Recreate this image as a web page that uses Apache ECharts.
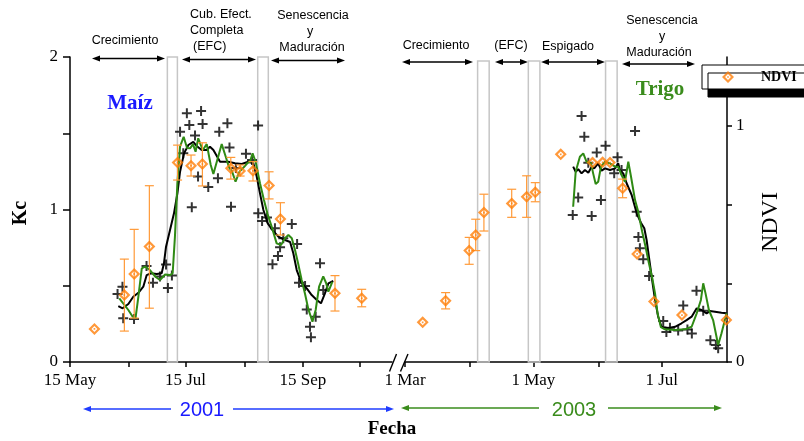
<!DOCTYPE html>
<html>
<head>
<meta charset="utf-8">
<script src="https://cdn.jsdelivr.net/npm/echarts@6/dist/echarts.min.js"></script>
<style>html,body{margin:0;padding:0;background:#fff;}#c{width:804px;height:441px;}</style>
</head>
<body>
<div id="c"></div>
<script>
// ---------- DATA (x = day of year) ----------
// 2001 (maize)
const tick2001 = [135, 166, 196, 227, 258, 288];
const labelDoy2001 = [135, 196, 258];
const labelText2001 = ['15 May', '15 Jul', '15 Sep'];
// 2003 (wheat)
const tick2003 = [60, 91, 121, 152, 182];
const labelDoy2003 = [60, 121, 182];
const labelText2003 = ['1 Mar', '1 May', '1 Jul'];

// measured Kc (crosses)
const crossDoy2001 = [160.1,162.7,163.1,168.8,175.4,178.8,182.5,185.7,186.7,188.8,193.1,194.8,196.7,198,199.3,201,202.6,204.2,205,208,213.1,213.8,218.1,219.2,220,222.6,227.9,231.1,234.3,234.4,236.4,239,241.9,243.2,244.8,245.9,247.6,252.1,254.9,255.9,259.1,260,261.7,262.2,264.7,267,268.7];
const crossKc2001  = [0.446,0.494,0.287,0.282,0.630,0.520,0.561,0.639,0.485,0.567,1.510,1.369,1.631,1.554,1.014,1.485,1.216,1.646,1.561,1.148,1.205,1.510,1.565,1.407,1.018,1.272,1.366,1.325,1.551,0.975,0.925,0.948,0.641,0.877,0.695,0.752,0.811,0.905,0.774,0.520,0.498,0.344,0.231,0.162,0.297,0.647,0.472];
const crossDoy2003 = [139.7,142.3,143.9,145.2,147.1,148.7,151.1,153.1,155.3,159.4,161,162.9,169.3,170.1,170.9,171.6,173.2,176,182.7,184.2,185.9,189.8,192.2,194.2,196.3,198.5,201.7,205.1,207.7,208.8];
const crossKc2003  = [0.964,1.079,1.613,1.477,1.307,0.957,1.374,1.062,1.418,1.237,1.342,1.259,1.515,0.986,0.820,0.746,0.673,0.564,0.269,0.197,0.225,0.207,0.370,0.213,0.187,0.468,0.336,0.142,0.111,0.090];

// black Kc curve
const blackDoy2001 = [160.5,162.8,165.8,168.4,171.1,173.7,175.5,177.8,180.8,183.4,184.6,185.7,187.4,189.9,191.7,193.1,195.2,197.5,200.1,201.9,204.5,207.2,208.9,210.7,212.5,214.2,218.6,222.1,225.7,229.1,231.8,233.6,235.3,237.1,239.4,241.8,245,248.5,251.2,252.9,254.7,257.3,260,262.6,265.3,267.5,269.6,271.4,274];
const blackKc2001  = [0.367,0.352,0.380,0.428,0.454,0.494,0.570,0.582,0.577,0.582,0.647,0.756,0.844,0.975,1.106,1.248,1.368,1.423,1.443,1.416,1.390,1.390,1.412,1.390,1.351,1.313,1.313,1.303,1.298,1.313,1.303,1.215,1.106,0.997,0.909,0.866,0.822,0.800,0.787,0.713,0.603,0.516,0.483,0.439,0.407,0.385,0.450,0.516,0.531];
const blackDoy2003 = [139.9,141.1,142.3,143.9,145.5,147.1,148.7,149.9,151.8,153.4,155,157.4,159.8,161.3,162.1,163.7,165.3,167.7,170.1,172.1,173.7,174.8,175.9,177.2,178.8,180.3,181.9,185.1,188.3,191.4,193.8,196.2,198.6,200.9,203.3,204.9,207.3,210.4,212.8];
const blackKc2003  = [1.281,1.248,1.264,1.237,1.259,1.241,1.281,1.270,1.303,1.254,1.270,1.259,1.270,1.303,1.259,1.237,1.172,1.095,0.975,0.913,0.877,0.800,0.690,0.559,0.407,0.297,0.231,0.221,0.231,0.254,0.275,0.297,0.352,0.341,0.319,0.334,0.330,0.323,0.319];

// green Kc curve
const greenDoy2001 = [161,163.1,165.8,168.1,169.6,171.1,172.9,174.6,177.2,180.1,182.5,185.2,187.8,189.2,190.4,191.7,193.1,195,196.8,198.4,199.9,201.3,202.7,205.1,207.2,209.3,210.7,212.5,215.1,217.1,219,220.5,222.4,224.5,226.6,228.7,230,231.4,233,235.3,237.4,239.3,241.5,244.1,246.4,248.5,250.3,252.1,253.8,255.5,257.3,259.1,260.8,263,264.7,266.5,268.7,270.2,271.4,273.5];
const greenKc2001  = [0.418,0.385,0.341,0.297,0.287,0.428,0.614,0.625,0.603,0.559,0.538,0.574,0.570,0.582,0.822,1.172,1.412,1.477,1.403,1.401,1.429,1.379,1.467,1.390,1.429,1.292,1.233,1.313,1.429,1.351,1.275,1.252,1.182,1.248,1.275,1.305,1.313,1.368,1.313,1.172,1.062,0.970,0.887,0.778,0.767,0.811,0.833,0.811,0.734,0.643,0.538,0.446,0.348,0.264,0.341,0.494,0.562,0.518,0.461,0.525];
const greenDoy2003 = [139.9,141.1,143.1,144.7,146.3,148.4,149.4,150.6,151.8,153.1,155,157.4,159.8,161.3,162.9,164.5,166.1,167.4,169.3,170.8,172.7,174.3,175.9,177.5,178.8,180,181.6,183.5,188.3,193,196.2,198.6,200.6,201.7,202.8,204.4,206.4,208.8,210.4,212.8];
const greenKc2003  = [1.018,1.248,1.346,1.368,1.313,1.303,1.237,1.167,1.182,1.281,1.313,1.303,1.281,1.281,1.226,1.182,1.313,1.215,1.062,0.986,0.854,0.756,0.647,0.549,0.450,0.319,0.228,0.214,0.210,0.214,0.231,0.319,0.407,0.516,0.450,0.341,0.275,0.111,0.188,0.319];

// NDVI (diamonds) with error bars (lo/hi, null = no bar)
const ndviDoy2001 = [147.9,163.7,168.9,176.9,191.8,198.9,204.9,219.9,224.8,231.6,240.1,246.1,274.9,289];
const ndvi2001    = [0.140,0.284,0.373,0.489,0.845,0.832,0.839,0.821,0.809,0.810,0.748,0.606,0.291,0.270];
const ndviLo2001  = [null,0.131,0.186,0.228,0.771,0.788,0.746,0.775,0.788,0.767,0.691,0.538,0.216,0.234];
const ndviHi2001  = [null,0.436,0.562,0.747,0.919,0.877,0.929,0.867,0.835,0.849,0.806,0.675,0.366,0.308];
const ndviDoy2003 = [68.4,79.3,90.5,93.6,97.5,110.7,117.8,121.9,134,149.1,153.9,157.4,163.4,170.3,178.3,191.6,212.7];
const ndvi2003    = [0.168,0.260,0.472,0.538,0.633,0.672,0.700,0.719,0.880,0.845,0.846,0.845,0.736,0.458,0.256,0.199,0.178];
const ndviLo2003  = [null,0.225,0.414,0.472,0.555,0.613,0.613,0.679,null,null,null,null,0.696,null,null,null,null];
const ndviHi2003  = [null,0.294,0.528,0.605,0.711,0.732,0.789,0.760,null,null,null,null,0.775,null,null,null,null];

// crop phase boundary boxes [start, end] (day of year)
const phaseBoxes2001 = [[186.4, 191.7], [234.1, 239.7]];
const phaseBoxes2003 = [[94.5, 100.0], [118.6, 124.1], [155.3, 160.8]];

// ---------- STYLE ----------
const SERIF = 'Liberation Serif';
const SANS = 'Liberation Sans';
const ORANGE = '#ff800a';
const ORANGE_BAR = '#ff9a38';
const GREEN = '#2f8a14';
const CROSS = 'path://M-2,-10L2,-10L2,-2L10,-2L10,2L2,2L2,10L-2,10L-2,2L-10,2L-10,-2L-2,-2Z';
const DIAMOND = 'path://M0,-10L10,0L0,10L-10,0Z M0,-4.9L-4.9,0L0,4.9L4.9,0Z M-1.4,-1.4L1.4,-1.4L1.4,1.4L-1.4,1.4Z';
const NDVI_MAX = 1.2924;

const zip = (a, b) => a.map((v, i) => [v, b[i]]);
const errData = (d, lo, hi) => d.map((v, i) => [v, lo[i], hi[i]]).filter(r => r[1] !== null);

function errRender(params, api) {
  const x = api.value(0), lo = api.value(1), hi = api.value(2);
  const p1 = api.coord([x, lo]), p2 = api.coord([x, hi]);
  const w = 4.5, st = {stroke: ORANGE_BAR, lineWidth: 1.2};
  return {type: 'group', children: [
    {type: 'line', shape: {x1: p1[0], y1: p1[1], x2: p2[0], y2: p2[1]}, style: st},
    {type: 'line', shape: {x1: p1[0] - w, y1: p1[1], x2: p1[0] + w, y2: p1[1]}, style: st},
    {type: 'line', shape: {x1: p2[0] - w, y1: p2[1], x2: p2[0] + w, y2: p2[1]}, style: st}
  ]};
}

function boxes(list, top) {
  return list.map(b => [{xAxis: b[0], yAxis: 0}, {xAxis: b[1], yAxis: top}]);
}

function xAxisDef(gi, min, max, ticks, lDoy, lText) {
  return {
    gridIndex: gi, type: 'value', min: min, max: max,
    axisLine: {show: true, onZero: false, lineStyle: {color: '#000', width: 1.5}},
    axisTick: {show: true, customValues: ticks, length: 5, lineStyle: {color: '#000', width: 1.5}},
    axisLabel: {show: true, customValues: lDoy, margin: 10, color: '#000', fontFamily: SERIF, fontSize: 17,
      formatter: v => { const i = lDoy.indexOf(Math.round(v)); return i >= 0 ? lText[i] : ''; }},
    splitLine: {show: false}
  };
}

// ---------- ANNOTATIONS (pixel positions) ----------
const phaseArrows = [[92,165,58.5],[182,256,59.5],[271,345,60.5],[402,473,62],[495,528,62],[541,605,62],[622,695,64]];
function arrowEls(x1, x2, y, color, lw, hl, hw) {
  return [
    {type: 'line', shape: {x1: x1 + hl - 1, y1: y, x2: x2 - hl + 1, y2: y}, style: {stroke: color, lineWidth: lw}},
    {type: 'polygon', shape: {points: [[x1, y], [x1 + hl, y - hw], [x1 + hl, y + hw]]}, style: {fill: color}},
    {type: 'polygon', shape: {points: [[x2, y], [x2 - hl, y - hw], [x2 - hl, y + hw]]}, style: {fill: color}}
  ];
}
function txt(x, y, text, font, color, align, rot) {
  return {type: 'text', x: x, y: y, rotation: rot || 0,
    style: {text: text, font: font, fill: color || '#000', align: align || 'center', verticalAlign: 'middle',
            textAlign: align || 'center', textVerticalAlign: 'middle', lineHeight: 16}};
}
const g = [];
phaseArrows.forEach(a => g.push(...arrowEls(a[0], a[1], a[2], '#000', 1.5, 8, 3)));
const PF = '12.5px ' + SANS;
g.push(txt(125, 41, 'Crecimiento', PF));
g.push(txt(190, 15, 'Cub. Efect.', PF, '#000', 'left'));
g.push(txt(190, 31, 'Completa', PF, '#000', 'left'));
g.push(txt(193, 47, '(EFC)', PF, '#000', 'left'));
g.push(txt(313, 16, 'Senescencia', PF));
g.push(txt(310, 32, 'y', PF));
g.push(txt(312, 48, 'Maduración', PF));
g.push(txt(436, 46, 'Crecimiento', PF));
g.push(txt(511, 46, '(EFC)', PF));
g.push(txt(568, 47, 'Espigado', PF));
g.push(txt(662, 21, 'Senescencia', PF));
g.push(txt(662, 37, 'y', PF));
g.push(txt(659, 53, 'Maduración', PF));
g.push(txt(130, 104, 'Maíz', 'bold 21px ' + SERIF, '#1a1aff'));
g.push(txt(660, 90, 'Trigo', 'bold 21px ' + SERIF, '#3a8c1c'));
g.push(txt(21, 213, 'Kc', 'bold 20px ' + SERIF, '#000', 'center', Math.PI / 2));
g.push(txt(771, 222, 'NDVI', '24px ' + SERIF, '#000', 'center', Math.PI / 2));
g.push(txt(392, 429, 'Fecha', 'bold 19px ' + SERIF));
// year arrows
const BLUE = '#1f3cff';
g.push({type: 'line', shape: {x1: 88, y1: 409, x2: 171, y2: 409}, style: {stroke: BLUE, lineWidth: 1.3}});
g.push({type: 'line', shape: {x1: 233, y1: 409, x2: 388, y2: 409}, style: {stroke: BLUE, lineWidth: 1.3}});
g.push({type: 'polygon', shape: {points: [[83, 409], [91, 406], [91, 412]]}, style: {fill: BLUE}});
g.push({type: 'polygon', shape: {points: [[394, 409], [386, 406], [386, 412]]}, style: {fill: BLUE}});
g.push(txt(202, 410, '2001', '20px ' + SANS, '#1a1aff'));
const G2 = '#3a8c1c';
g.push({type: 'line', shape: {x1: 406, y1: 408, x2: 539, y2: 408}, style: {stroke: G2, lineWidth: 1.3}});
g.push({type: 'line', shape: {x1: 608, y1: 408, x2: 716, y2: 408}, style: {stroke: G2, lineWidth: 1.3}});
g.push({type: 'polygon', shape: {points: [[401, 408], [409, 405], [409, 411]]}, style: {fill: G2}});
g.push({type: 'polygon', shape: {points: [[722, 408], [714, 405], [714, 411]]}, style: {fill: G2}});
g.push(txt(574, 410, '2003', '20px ' + SANS, G2));
// axis break marks
g.push({type: 'line', shape: {x1: 389.5, y1: 371.5, x2: 396.5, y2: 354}, style: {stroke: '#000', lineWidth: 1.4}});
g.push({type: 'line', shape: {x1: 400.5, y1: 371.5, x2: 408, y2: 354}, style: {stroke: '#000', lineWidth: 1.4}});

// ---------- CHART ----------
const chart = echarts.init(document.getElementById('c'), null, {renderer: 'canvas'});
const crossStyle = {type: 'scatter', symbol: CROSS, symbolSize: 10, itemStyle: {color: '#000'}, z: 3, silent: true};
const boxStyle = {silent: true, itemStyle: {color: 'rgba(255,255,255,0)', borderColor: '#c6c6c6', borderWidth: 1.5}};
chart.setOption({
  animation: false,
  backgroundColor: '#fff',
  grid: [
    {left: 70, width: 322, top: 57, height: 305},
    {left: 405, width: 322, top: 57, height: 305}
  ],
  xAxis: [
    xAxisDef(0, 135, 305, tick2001, labelDoy2001, labelText2001),
    xAxisDef(1, 60, 213, tick2003, labelDoy2003, labelText2003)
  ],
  yAxis: [
    {gridIndex: 0, type: 'value', min: 0, max: 2, position: 'left',
      axisLine: {show: true, lineStyle: {color: '#000', width: 1.5}},
      axisTick: {show: true, customValues: [0, 0.5, 1, 1.5, 2], length: 7, lineStyle: {color: '#000', width: 1.5}},
      axisLabel: {customValues: [0, 1, 2], margin: 12, color: '#000', fontFamily: SERIF, fontSize: 17},
      splitLine: {show: false}},
    {gridIndex: 0, type: 'value', min: 0, max: NDVI_MAX, show: false},
    {gridIndex: 1, type: 'value', min: 0, max: 2, show: false},
    {gridIndex: 1, type: 'value', min: 0, max: NDVI_MAX, position: 'right',
      axisLine: {show: true, lineStyle: {color: '#000', width: 1.5}},
      axisTick: {show: true, customValues: [0, 1/3, 2/3, 1], length: 5, lineStyle: {color: '#000', width: 1.5}},
      axisLabel: {customValues: [0, 1], margin: 9, color: '#000', fontFamily: SERIF, fontSize: 17},
      splitLine: {show: false}}
  ],
  legend: {
    data: [{name: 'NDVI'}], left: 702, top: 65, orient: 'horizontal',
    backgroundColor: '#fff', borderColor: '#000', borderWidth: 1, borderRadius: 0,
    shadowColor: '#000', shadowBlur: 0, shadowOffsetX: 6, shadowOffsetY: 8,
    padding: [5, 40, 5, 20], itemWidth: 12, itemHeight: 12,
    textStyle: {fontFamily: SERIF, fontWeight: 'bold', fontSize: 14, color: '#000', padding: [0, 0, 0, 22]}
  },
  graphic: {elements: g},
  series: [
    Object.assign({}, crossStyle, {name: 'Kc2001', xAxisIndex: 0, yAxisIndex: 0, data: zip(crossDoy2001, crossKc2001),
      markArea: Object.assign({}, boxStyle, {data: boxes(phaseBoxes2001, 2)})}),
    {name: 'kcBlack2001', type: 'line', xAxisIndex: 0, yAxisIndex: 0, data: zip(blackDoy2001, blackKc2001),
      showSymbol: false, lineStyle: {color: '#000', width: 2}, z: 4, silent: true},
    {name: 'kcGreen2001', type: 'line', xAxisIndex: 0, yAxisIndex: 0, data: zip(greenDoy2001, greenKc2001),
      showSymbol: false, lineStyle: {color: GREEN, width: 2}, z: 5, silent: true},
    {name: 'err2001', type: 'custom', xAxisIndex: 0, yAxisIndex: 1, data: errData(ndviDoy2001, ndviLo2001, ndviHi2001),
      renderItem: errRender, encode: {x: 0, y: [1, 2]}, z: 6, silent: true},
    {name: 'NDVI', type: 'scatter', xAxisIndex: 0, yAxisIndex: 1, data: zip(ndviDoy2001, ndvi2001),
      symbol: DIAMOND, symbolSize: 12, itemStyle: {color: ORANGE}, z: 7, silent: true},

    Object.assign({}, crossStyle, {name: 'Kc2003', xAxisIndex: 1, yAxisIndex: 2, data: zip(crossDoy2003, crossKc2003),
      markArea: Object.assign({}, boxStyle, {data: boxes(phaseBoxes2003, 1.974)})}),
    {name: 'kcBlack2003', type: 'line', xAxisIndex: 1, yAxisIndex: 2, data: zip(blackDoy2003, blackKc2003),
      showSymbol: false, lineStyle: {color: '#000', width: 2}, z: 4, silent: true},
    {name: 'kcGreen2003', type: 'line', xAxisIndex: 1, yAxisIndex: 2, data: zip(greenDoy2003, greenKc2003),
      showSymbol: false, lineStyle: {color: GREEN, width: 2}, z: 5, silent: true},
    {name: 'err2003', type: 'custom', xAxisIndex: 1, yAxisIndex: 3, data: errData(ndviDoy2003, ndviLo2003, ndviHi2003),
      renderItem: errRender, encode: {x: 0, y: [1, 2]}, z: 6, silent: true},
    {name: 'NDVI', type: 'scatter', xAxisIndex: 1, yAxisIndex: 3, data: zip(ndviDoy2003, ndvi2003),
      symbol: DIAMOND, symbolSize: 12, itemStyle: {color: ORANGE}, z: 7, silent: true}
  ]
});
</script>
</body>
</html>
